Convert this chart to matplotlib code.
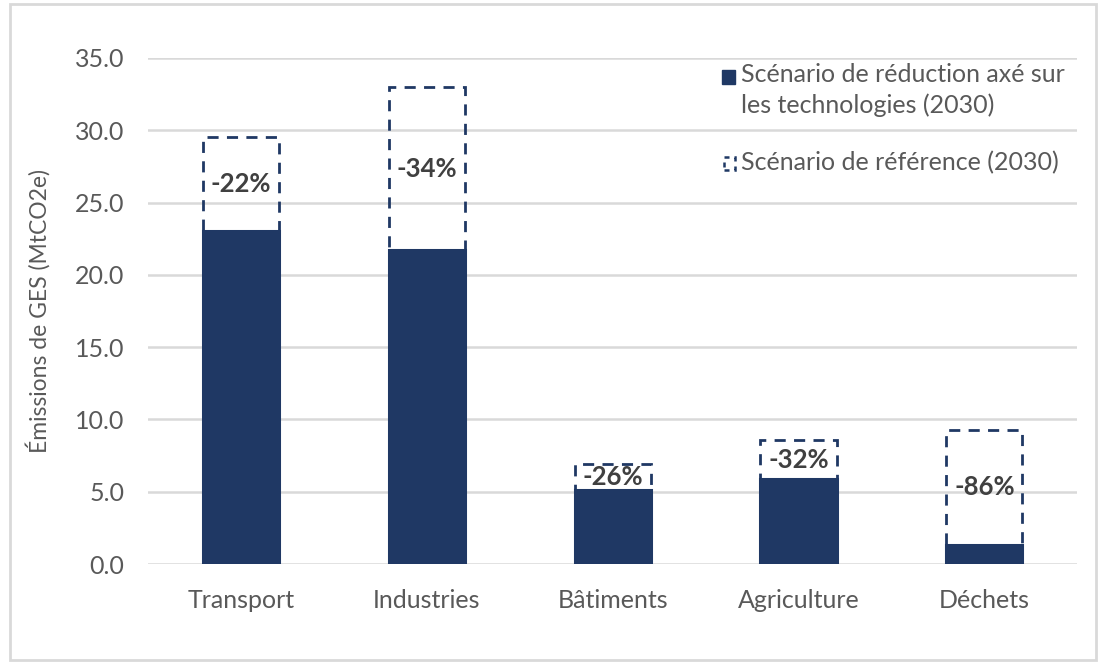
import matplotlib.pyplot as plt
from matplotlib.patches import Rectangle

categories = ["Transport", "Industries", "Bâtiments", "Agriculture", "Déchets"]
reference_2030 = [29.5, 33.0, 6.9, 8.6, 9.3]
reduction_2030 = [23.0, 21.7, 5.1, 5.85, 1.3]
pct_labels = ["-22%", "-34%", "-26%", "-32%", "-86%"]
legend_labels = ["Scénario de réduction axé sur\nles technologies (2030)",
                 "Scénario de référence (2030)"]

navy = "#1F3864"
grey_txt = "#595959"
plt.rcParams["font.family"] = ["Lato", "DejaVu Sans"]

W, H = 1106, 664
fig = plt.figure(figsize=(11.06, 6.64), dpi=100)
fig.patches.append(Rectangle((10 / W, 4 / H), 1086 / W, 656 / H,
                             transform=fig.transFigure, fill=False,
                             edgecolor="#D9D9D9", linewidth=2))
ax = fig.add_axes([0.134, 0.1506, 0.84, 0.7621])

x = range(len(categories))
w = 0.41
ax.bar(x, reference_2030, width=w, fill=False, edgecolor=navy,
       linestyle=(0, (4, 3)), linewidth=2, zorder=2)
ax.bar(x, reduction_2030, width=w, color=navy, edgecolor=navy,
       linewidth=2.2, zorder=3)

for i, lab in enumerate(pct_labels):
    mid = (reference_2030[i] + reduction_2030[i]) / 2
    ax.text(i, mid, lab, ha="center", va="center", fontsize=18.5,
            fontweight="bold", color="#404040", zorder=4)

ax.set_xlim(-0.5, 4.5)
ax.set_ylim(0, 35)
ax.set_yticks([0, 5, 10, 15, 20, 25, 30, 35])
ax.set_yticklabels([f"{v:.1f}" for v in ax.get_yticks()])
ax.set_xticks(list(x))
ax.set_xticklabels(categories)
ax.tick_params(axis="both", length=0, labelsize=18, colors=grey_txt)
ax.tick_params(axis="x", pad=18)
ax.tick_params(axis="y", pad=17)
ax.grid(axis="y", color="#D9D9D9", linewidth=1.8, zorder=0)
ax.set_axisbelow(True)
for s in ax.spines.values():
    s.set_visible(False)
ax.set_ylabel("Émissions de GES (MtCO2e)", fontsize=16.5, color=grey_txt, labelpad=18)

# legend drawn by hand (handle aligned with first text line, as in the original)
fig.patches.append(Rectangle((722 / W, 1 - 84 / H), 13 / W, 14 / H,
                             transform=fig.transFigure, facecolor=navy, edgecolor=navy))
fig.patches.append(Rectangle((724 / W, 1 - 170 / H), 11 / W, 13 / H,
                             transform=fig.transFigure, fill=False, edgecolor=navy,
                             linestyle=(0, (2, 2)), linewidth=1.8))
fig.text(741 / W, 1 - 63 / H, legend_labels[0], ha="left", va="top", fontsize=18,
         color=grey_txt, linespacing=1.4)
fig.text(741 / W, 1 - 163 / H, legend_labels[1], ha="left", va="center", fontsize=18,
         color=grey_txt)

fig.savefig("out.png", dpi=100)
